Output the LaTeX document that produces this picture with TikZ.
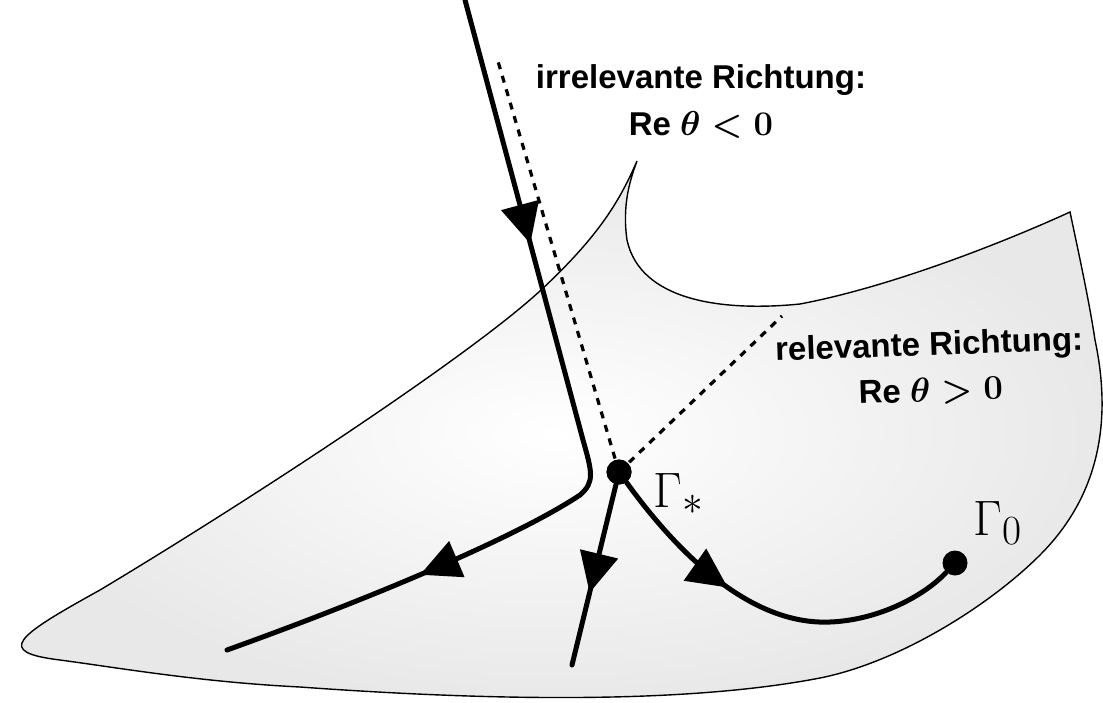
\documentclass[tikz,border=0pt]{standalone}
\usepackage{fontspec}
\setsansfont{Liberation Sans}
\usetikzlibrary{arrows.meta,decorations.markings}
\tikzset{
  sheet/.style={draw=black,line width=0.7pt,inner color=white,outer color=black!9},
  contour/.style={line width=2.5pt,line cap=round},
  guide/.style={line width=1.6pt,dash pattern=on 3.5pt off 3.5pt},
  dot/.style={circle,fill=black,inner sep=0pt,minimum size=12.5pt},
  flowmark/.style={postaction={decorate,decoration={markings,mark=at position #1 with {\arrow{Triangle[length=20pt,width=19pt]}}}}},
  dirlabel/.style={font=\sffamily\bfseries\fontsize{16.5}{20}\selectfont,align=center,inner sep=0pt},
  pointlabel/.style={font=\fontsize{28}{30}\selectfont,inner sep=0pt},
}
\begin{document}
\begin{tikzpicture}[x=0.5pt,y=-0.5pt]
\useasboundingbox (0,0) rectangle (1103,702);
% the sheet
\path[sheet] (637,161) .. controls (620,200) and (600,235) .. (541,290)
  .. controls (470,356) and (250,500) .. (100,590)
  .. controls (15,637) and (-5,652) .. (60,660)
  .. controls (120,668) and (200,682) .. (300,687)
  .. controls (480,700) and (680,705) .. (820,678)
  .. controls (900,662) and (990,605) .. (1040,555)
  .. controls (1100,495) and (1112,420) .. (1095,340)
  .. controls (1089,300) and (1078,250) .. (1070,212)
  .. controls (1020,235) and (900,285) .. (800,304)
  .. controls (720,312) and (640,300) .. (627,240)
  .. controls (622,205) and (630,180) .. (637,161) -- cycle;
% points
\node[dot] (crit) at (619,472) {};
\node[dot] (end) at (955,563) {};
% free ends
\coordinate (inTop) at (465,0);
\coordinate (inEnd) at (227,650);
\coordinate (outEnd) at (572,665);
\coordinate (irrEnd) at (497,58);
\coordinate (relEnd) at (782,316);
% directions
\draw[guide] (crit.center) -- (irrEnd);
\draw[guide] (crit.center) -- (relEnd);
% contours
\draw[contour,flowmark=0.28,flowmark=0.77] (inTop) -- (583,440)
  .. controls (592,472) and (595,482) .. (580,495)
  .. controls (520,535) and (380,595) .. (inEnd);
\draw[contour,flowmark=0.6] (crit) -- (outEnd);
\draw[contour,flowmark=0.38] (crit) .. controls (690,570) and (760,625) .. (830,622)
  .. controls (880,620) and (925,595) .. (end);
\node[dot] at (crit) {};
% labels
\node[pointlabel,anchor=base west] (critlbl) at (653,507) {$\Gamma_*$};
\node[pointlabel,anchor=base west] (endlbl) at (973,535) {$\Gamma_0$};
\node[dirlabel] (irrlbl) at (701,102) {irrelevante Richtung:\\[3.5pt]Re {\boldmath$\theta<0$}};
\node[dirlabel,rotate=2] (rellbl) at (930,368) {relevante Richtung:\\[3pt]Re {\boldmath$\theta>0$}};
\end{tikzpicture}
\end{document}
